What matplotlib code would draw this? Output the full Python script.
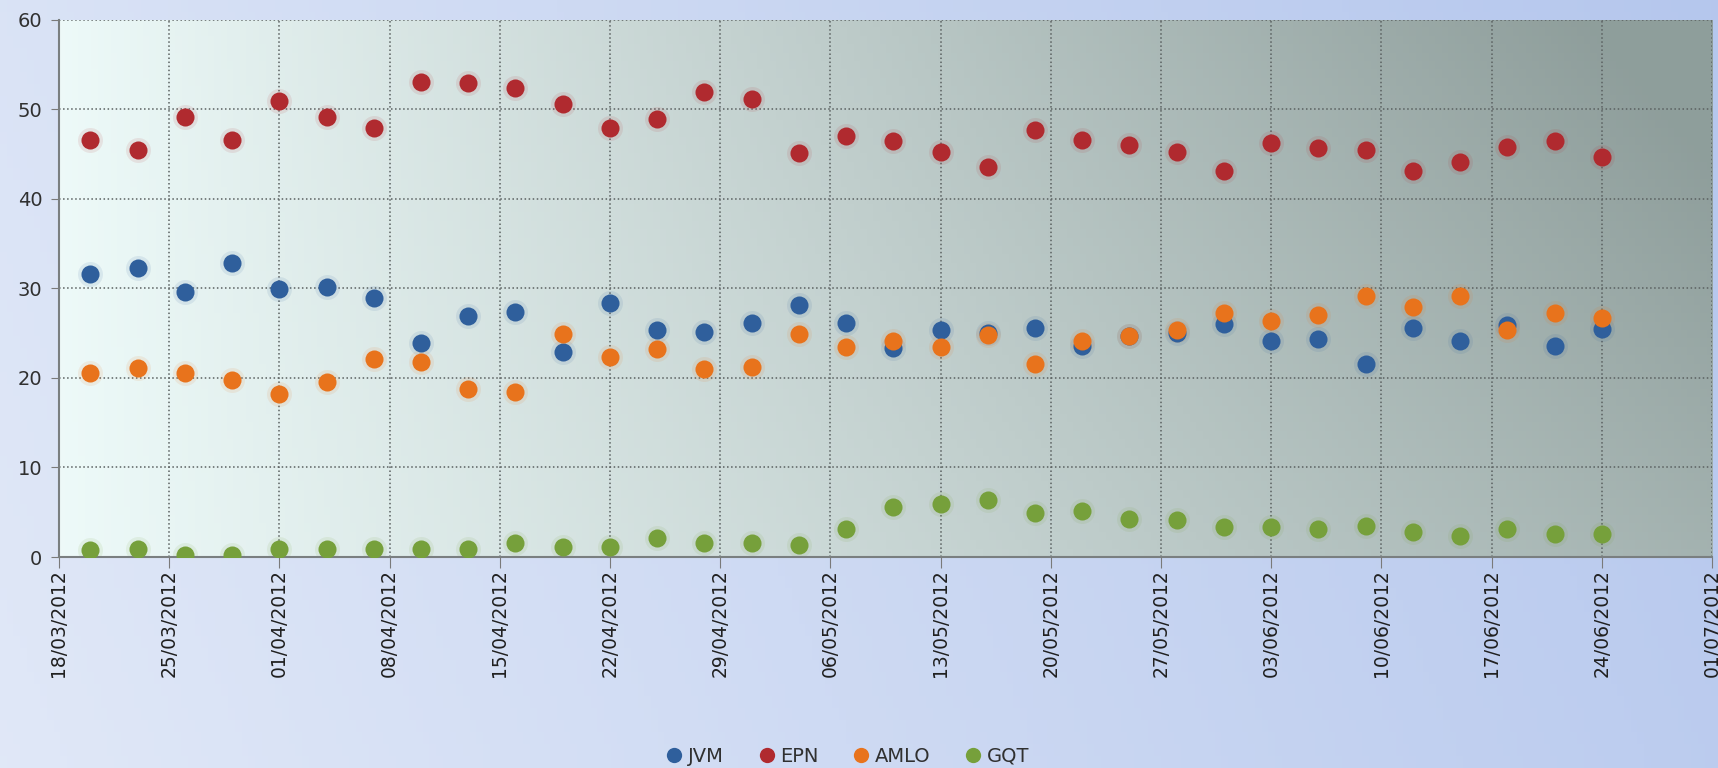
"""Poll tracking scatter: JVM / EPN / AMLO / GQT, March-June 2012."""

import matplotlib
matplotlib.use("Agg")
import matplotlib.dates as mdates
import matplotlib.pyplot as plt
import numpy as np
import pandas as pd

poll_dates = [
    "2012-03-20", "2012-03-23", "2012-03-26", "2012-03-29", "2012-04-01",
    "2012-04-04", "2012-04-07", "2012-04-10", "2012-04-13", "2012-04-16",
    "2012-04-19", "2012-04-22", "2012-04-25", "2012-04-28", "2012-05-01",
    "2012-05-04", "2012-05-07", "2012-05-10", "2012-05-13", "2012-05-16",
    "2012-05-19", "2012-05-22", "2012-05-25", "2012-05-28", "2012-05-31",
    "2012-06-03", "2012-06-06", "2012-06-09", "2012-06-12", "2012-06-15",
    "2012-06-18", "2012-06-21", "2012-06-24",
]

jvm = [31.6, 32.3, 29.6, 32.8, 29.9, 30.1, 28.9, 23.9, 26.9, 27.4,
       22.9, 28.4, 25.4, 25.1, 26.1, 28.2, 26.1, 23.3, 25.3, 25.0,
       25.6, 23.6, 24.7, 25.0, 26.0, 24.1, 24.4, 21.6, 25.6, 24.1,
       25.9, 23.6, 25.5]
epn = [46.6, 45.4, 49.1, 46.6, 50.9, 49.1, 47.9, 53.1, 52.9, 52.4,
       50.6, 47.9, 48.9, 51.9, 51.2, 45.1, 47.0, 46.5, 45.2, 43.6,
       47.7, 46.6, 46.0, 45.2, 43.1, 46.2, 45.7, 45.4, 43.1, 44.1,
       45.8, 46.5, 44.7]
amlo = [20.6, 21.1, 20.6, 19.8, 18.2, 19.6, 22.1, 21.8, 18.8, 18.4,
        24.9, 22.3, 23.2, 21.0, 21.2, 24.9, 23.5, 24.1, 23.5, 24.8,
        21.6, 24.1, 24.7, 25.3, 27.2, 26.4, 27.0, 29.2, 27.9, 29.2,
        25.3, 27.3, 26.7]
gqt = [0.8, 0.9, 0.2, 0.2, 0.9, 0.9, 0.9, 0.9, 0.9, 1.6,
       1.1, 1.1, 2.1, 1.6, 1.6, 1.3, 3.1, 5.6, 5.9, 6.4,
       4.9, 5.1, 4.3, 4.1, 3.4, 3.4, 3.1, 3.5, 2.8, 2.3,
       3.1, 2.6, 2.6]

series_names = ["JVM", "EPN", "AMLO", "GQT"]
series_colors = ["#2f5f9c", "#b02a2f", "#e8731c", "#76a03b"]

x = pd.to_datetime(poll_dates)

fig = plt.figure(figsize=(17.18, 7.68), dpi=100)

# background gradient for the whole figure
bg = fig.add_axes([0, 0, 1, 1], zorder=-2)
gx = np.linspace(0, 1, 256)[None, :]
gy = np.linspace(0, 1, 64)[:, None]
t = np.clip(0.85 * gx + 0.15 * (1 - gy), 0, 1)[..., None]
c0 = np.array([0.88, 0.91, 0.97])
c1 = np.array([0.71, 0.78, 0.93])
bg.imshow(c0 * (1 - t) + c1 * t, aspect="auto", extent=[0, 1, 0, 1])
bg.axis("off")

ax = fig.add_axes([0.0343, 0.2747, 0.9622, 0.6996])
ax.patch.set_alpha(0)

# plot-area gradient: light mint on the left, grey-green towards the top right
px = np.linspace(0, 1, 256)[None, :]
py = np.linspace(0, 1, 64)[:, None]   # row 0 is the top
pt = np.clip(px * (0.78 + 0.3 * (1 - py)), 0, 1)[..., None]
p0 = np.array([0.93, 0.98, 0.975])
p1 = np.array([0.56, 0.62, 0.61])
ax.imshow(p0 * (1 - pt) + p1 * pt, aspect="auto", extent=[0, 1, 0, 1],
          transform=ax.transAxes, zorder=0)

for vals, name, col in zip([jvm, epn, amlo, gqt], series_names, series_colors):
    ax.plot(x, vals, linestyle="none", marker="o", markersize=18,
            color=col, alpha=0.1, markeredgewidth=0, zorder=2)
    ax.plot(x, vals, linestyle="none", marker="o", markersize=13,
            color=col, markeredgewidth=0, label=name, zorder=3)

ax.set_xlim(pd.Timestamp("2012-03-18"), pd.Timestamp("2012-07-01"))
ax.set_ylim(0, 60)
ax.set_yticks(range(0, 61, 10))

ticks = pd.date_range("2012-03-18", "2012-07-01", freq="7D")
ax.set_xticks(ticks)
ax.xaxis.set_major_formatter(mdates.DateFormatter("%d/%m/%Y"))
plt.setp(ax.get_xticklabels(), rotation=90, ha="center", va="top")

ax.tick_params(axis="x", length=8, color="#7a7a7a", labelsize=13.5,
               labelcolor="#202020", pad=1)
ax.tick_params(axis="y", length=6, color="#7a7a7a", labelsize=14,
               labelcolor="#303030", pad=6)

ax.grid(True, linestyle=":", color="#5a6060", linewidth=1.1, zorder=1)
ax.set_axisbelow(True)
for side in ["top", "right"]:
    ax.spines[side].set_visible(False)
for side in ["left", "bottom"]:
    ax.spines[side].set_color("#7a7f80")
    ax.spines[side].set_linewidth(1.5)

handles = [plt.Line2D([], [], linestyle="none", marker="o", markersize=11,
                      color=c, markeredgewidth=0) for c in series_colors]
fig.legend(handles, series_names, loc="lower center", ncol=4, frameon=False,
           bbox_to_anchor=(0.493, -0.02), fontsize=14, handletextpad=0.2,
           columnspacing=1.7, handlelength=1.0, labelcolor="#303030")

fig.savefig("out.png", dpi=100)
plt.close(fig)
